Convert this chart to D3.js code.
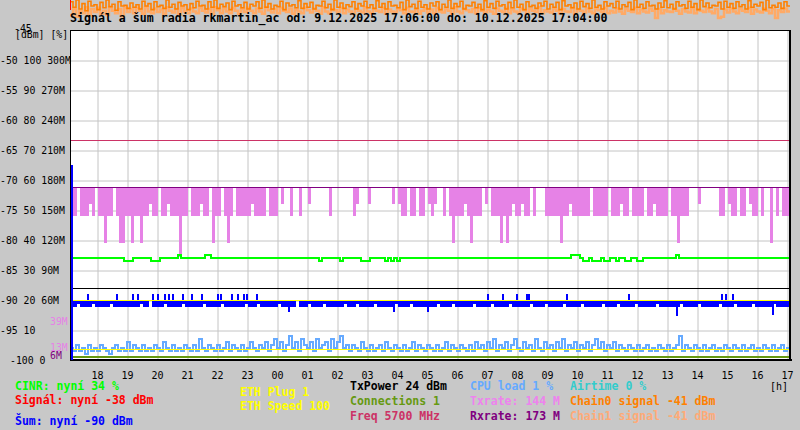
<!DOCTYPE html>
<html>
<head>
<meta charset="utf-8">
<script src="https://cdn.jsdelivr.net/npm/d3@7"></script>
<style>
body { margin: 0; background: #c8c8c8; }
svg { display: block; }
text { font-family: "DejaVu Sans Mono", monospace; }
</style>
</head>
<body>
<svg id="chart"></svg>
<script>
const width = 800;
const height = 430;
const plotLeft = 70, plotRight = 790, plotTop = 30, plotBottom = 360;

const startTime = new Date(2025, 11, 9, 17, 6);
const endTime = new Date(2025, 11, 10, 17, 6);
const stepMin = 6;

const title = 'Signál a šum radia rkmartin_ac od: 9.12.2025 17:06:00 do: 10.12.2025 17:04:00';

// values per 6 minute bucket
let txrate = [
    144,144,173,144,144,144,156,144,173,144, 144,117,144,144,173,144,117,117,144,
    144,117,144,144,117,144, 144,156,144,144,173,144,144,156,144,144,144,103,
    144,144,173,144,144,144,156,144,144,173, 117,144,144,173,144,117,144,173,144,144,
    144,144,144,156,144,144,144,144,173,144,144,144, 173,156,173,173,144,173,173,144,
    173,173,156,173,173,173,173,173,173, 144,173,173, 173,173,173,173,173, 144,156,
    173,173,173, 156, 173,173,173,173,173,173,173, 156,173,156, 144,144,173,144,
    144,173,144,144, 173,156,144,156,173, 173,144,173,
    144,117,144,144,144,156,144,117,144,144,144, 173,156,173, 144,144,144,117,144,117,144,
    156,144,144,156,144,144,173,144, 173,173,173,144,
    144,144,144,144,117,144,144,156,144,144,144, 144,144,144,173,144,144,144,
    144,144,173,144,144,144,156,144,144,173,144,144,144,144,173,144,144,156,144,
    144,144,144,173,144,144,117,144,144,144,173, 173,173,156,173,173,173,173,173,173,144,
    144,173,156,144,144,173,144,144,173,156,144,144, 173,144,173,173,117,173,144,173,144,144,144
];
const rxrate = 173;

let cinr = [
    34,34,34,34,34,34,34,34,34,34,34,34,34,34,34,34,34,34,33,33,
    33,34,34,34,34,34,34,33,33,33,34,34,34,34,34,34,35,34,34,34,
    34,34,34,34,34,35,35,34,34,34,34,34,34,34,34,34,34,34,34,34,
    34,34,34,34,34,34,34,34,34,34,34,34,34,34,34,34,34,34,34,34,
    34,34,34,33,34,34,34,34,34,34,33,34,34,34,34,34,34,33,33,33,
    34,34,34,34,34,33,34,33,34,33,34,34,34,34,34,34,34,34,34,34,
    34,34,34,34,34,34,34,34,34,34,34,34,34,34,34,34,34,34,34,34,
    34,34,34,34,34,34,34,34,34,34,34,34,34,34,34,34,34,34,34,34,
    34,34,34,34,34,34,34,35,35,35,34,33,33,34,33,33,33,34,33,33,
    34,34,33,34,34,33,33,34,34,33,33,34,34,34,34,34,34,34,34,34,
    34,34,35,34,34,34,34,34,34,34,34,34,34,34,34,34,34,34,34,34,
    34,34,34,34,34,34,34,34,34,34,34,34,34,34,34,34,34,34,34,34
];

let cpuLoad = [
    4,3,5,3,4,2,5,3,4,3,5,4,3,2,4,5,3,4,3,6,
    3,5,4,3,5,3,4,3,5,4,3,6,4,3,5,3,4,3,5,4,
    3,5,3,7,4,3,5,4,3,5,3,4,6,3,5,4,3,5,3,4,
    6,4,3,5,4,6,3,5,7,4,6,3,5,8,4,6,3,7,5,4,
    6,3,7,4,5,6,3,7,4,6,8,4,5,3,5,4,3,6,4,3,
    5,3,4,5,3,6,4,3,5,4,3,5,3,4,6,3,5,4,3,5,
    4,3,5,3,4,6,3,5,4,3,5,4,3,5,3,6,4,5,3,6,
    4,7,3,5,4,6,3,5,7,4,3,6,4,5,3,7,4,3,6,4,
    5,3,6,4,7,3,5,4,6,3,5,4,6,3,5,7,4,6,3,5,
    4,6,3,5,4,3,5,4,3,5,3,4,5,3,4,3,5,4,3,5,
    3,4,5,8,3,5,4,3,5,4,3,5,3,4,5,3,4,3,5,4,
    3,5,4,3,5,3,4,5,3,4,3,5,4,3,5,3,4,5,3,4
];

let noiseLow = [
    -91.2,-91.2,-90.6,-91.2,-91.2,-91.2,-91.2,-90.6,-91.2,-91.2,-91.2,-91.2,-91.2,-90.6,-91.2,-91.2,-91.2,-91.2,-91.2,-91.2,
    -91.2,-91.2,-91.2,-90.6,-91.2,-91.2,-90.0,-91.2,-91.2,-91.2,-91.2,-90.6,-91.2,-91.2,-91.2,-91.2,-91.2,-90.6,-91.2,-91.2,
    -91.2,-91.2,-91.2,-91.2,-90.6,-91.2,-91.2,-91.2,-91.2,-91.2,-90.6,-91.2,-91.2,-91.2,-91.2,-91.2,-91.2,-91.2,-90.6,-91.2,
    -91.2,-91.2,-90.6,-91.2,-91.2,-91.2,-91.2,-91.2,-91.2,-90.6,-91.2,-91.2,-91.2,-91.2,-91.2,-90.0,-91.2,-91.2,-91.2,-90.6,
    -91.2,-91.2,-91.2,-91.2,-90.6,-91.2,-91.2,-91.2,-91.2,-91.2,-91.2,-90.6,-91.2,-91.2,-91.2,-90.6,-91.2,-91.2,-91.2,-91.2,
    -91.2,-90.6,-91.2,-91.2,-91.2,-91.2,-91.2,-91.2,-90.6,-91.2,-91.2,-91.2,-91.2,-90.6,-91.2,-91.2,-91.2,-91.2,-91.2,-91.2,
    -91.2,-91.2,-90.6,-91.2,-91.2,-91.2,-91.2,-90.6,-91.2,-91.2,-91.2,-91.2,-91.2,-91.2,-90.6,-91.2,-91.2,-91.2,-91.2,-91.2,
    -90.6,-91.2,-91.2,-91.2,-91.2,-91.2,-90.6,-91.2,-91.2,-91.2,-91.2,-91.2,-91.2,-90.6,-91.2,-91.2,-91.2,-91.2,-90.6,-91.2,
    -91.2,-91.2,-91.2,-91.2,-90.6,-91.2,-91.2,-91.2,-91.2,-91.2,-90.6,-91.2,-91.2,-91.2,-91.2,-91.2,-91.2,-90.6,-91.2,-91.2,
    -91.2,-91.2,-90.6,-91.2,-91.2,-91.2,-91.2,-91.2,-90.6,-91.2,-91.2,-91.2,-91.2,-91.2,-91.2,-90.6,-91.2,-91.2,-91.2,-91.2,
    -91.2,-91.2,-91.2,-90.6,-91.2,-91.2,-91.2,-91.2,-91.2,-90.6,-91.2,-91.2,-91.2,-91.2,-91.2,-91.2,-90.6,-91.2,-91.2,-91.2,
    -91.2,-90.6,-91.2,-91.2,-91.2,-91.2,-91.2,-90.6,-91.2,-91.2,-91.2,-91.2,-91.2,-91.2,-90.6,-91.2,-91.2,-91.2,-91.2,-91.2
];
const noiseFirst = -67.5;

let noiseSpikes = [
    ['17:42', -89], ['18:40', -89], ['19:12', -89], ['19:22', -89], ['19:52', -89],
    ['20:02', -89], ['20:16', -89], ['20:24', -89], ['20:32', -89], ['20:52', -89],
    ['21:10', -89], ['21:30', -89], ['22:02', -89], ['22:08', -89], ['22:30', -89],
    ['22:42', -89], ['22:54', -89], ['23:00', -89], ['23:20', -89], ['00:24', -92],
    ['03:54', -92], ['05:02', -92], ['07:02', -89], ['07:32', -89], ['08:00', -89],
    ['08:20', -89], ['08:24', -89], ['09:40', -89], ['11:44', -89], ['13:20', -92.7],
    ['14:50', -89], ['14:58', -89], ['15:12', -89], ['16:32', -92.5]
];

let chain0 = [
    -40.3,-41.2,-40.0,-41.5,-40.6,-41.8,-40.2,-41.0,-40.8,-41.6,-40.4,-41.3,-40.0,-41.1,-40.7,-41.7,-40.3,-41.0,-40.9,-41.4,
    -40.5,-41.2,-40.8,-41.5,-40.2,-41.0,-40.6,-41.6,-40.3,-41.1,-40.9,-41.4,-40.0,-41.2,-40.7,-41.5,-40.4,-41.0,-40.8,-41.6,
    -40.6,-41.3,-40.2,-41.0,-40.9,-41.5,-40.3,-41.2,-40.0,-41.4,-40.7,-41.1,-40.5,-41.6,-40.2,-41.0,-40.8,-41.3,-40.4,-41.5,
    -40.7,-41.0,-40.3,-41.4,-40.0,-41.2,-40.6,-41.5,-40.9,-41.1,-40.2,-41.6,-40.5,-41.0,-40.8,-41.3,-40.1,-41.4,-40.6,-41.2,
    -40.4,-41.5,-40.9,-41.0,-40.2,-41.3,-40.7,-41.6,-40.0,-41.2,-40.5,-41.4,-40.8,-41.1,-40.3,-41.5,-40.6,-41.0,-40.2,-41.3,
    -40.8,-41.4,-40.1,-41.2,-40.6,-41.5,-40.3,-41.0,-40.9,-41.3,-40.4,-41.6,-40.0,-41.1,-40.7,-41.4,-40.2,-41.2,-40.8,-41.5,
    -40.5,-41.0,-40.3,-41.6,-40.7,-41.2,-40.0,-41.4,-40.6,-41.1,-40.2,-41.5,-40.9,-41.0,-40.4,-41.3,-40.7,-41.6,-40.1,-41.2,
    -40.6,-41.4,-40.2,-41.0,-40.8,-41.5,-40.4,-41.3,-40.0,-41.2,-40.7,-41.6,-40.3,-41.1,-40.9,-41.4,-40.5,-41.0,-40.2,-41.5,
    -40.7,-41.2,-40.4,-41.6,-40.1,-41.0,-40.8,-41.3,-40.5,-41.5,-40.2,-41.1,-40.6,-41.4,-40.0,-41.2,-40.9,-41.5,-40.3,-41.0,
    -40.6,-41.3,-40.2,-41.5,-40.8,-41.1,-40.4,-41.6,-40.0,-41.2,-40.7,-41.4,-40.3,-41.0,-40.9,-41.5,-40.5,-41.2,-40.1,-41.3,
    -40.7,-41.5,-40.3,-41.0,-40.8,-41.4,-40.2,-41.2,-40.6,-41.6,-40.0,-41.1,-40.5,-41.3,-40.9,-41.0,-40.4,-41.5,-40.2,-41.2,
    -40.6,-41.4,-40.3,-41.1,-40.8,-41.5,-40.1,-41.2,-40.7,-41.0,-40.4,-41.6,-40.0,-41.3,-40.9,-41.2,-40.5,-41.4,-40.3,-41.0
];

let chain1 = [
    -42.5,-41.5,-42.8,-41.8,-42.2,-41.2,-42.6,-41.5,-42.0,-41.3,-42.3,-41.8,-42.5,-41.2,-41.8,-42.2,-41.5,-42.7,-41.3,-42.0,
    -41.5,-42.2,-41.3,-41.8,-42.3,-41.2,-41.9,-42.2,-41.4,-42.0,-41.6,-42.3,-41.2,-41.8,-42.1,-41.5,-42.4,-41.3,-41.9,-42.2,
    -41.4,-41.9,-42.2,-41.3,-41.8,-42.1,-41.5,-42.3,-41.2,-41.7,-42.2,-41.4,-41.9,-42.2,-41.3,-41.8,-42.3,-41.5,-42.0,-41.3,
    -41.8,-42.2,-41.4,-41.9,-42.3,-41.2,-41.7,-42.1,-41.5,-42.2,-41.3,-41.8,-42.0,-41.4,-42.3,-41.6,-41.9,-42.2,-41.3,-41.7,
    -42.1,-41.4,-41.8,-42.3,-41.2,-41.9,-42.2,-41.5,-41.7,-42.0,-41.3,-42.2,-41.6,-41.9,-42.3,-41.4,-41.8,-42.1,-41.2,-41.9,
    -42.2,-41.5,-41.8,-42.0,-41.3,-42.3,-41.6,-41.9,-42.1,-41.4,-41.7,-42.2,-41.3,-41.9,-42.0,-41.5,-42.3,-41.8,-41.4,-42.1,
    -41.6,-42.2,-41.3,-41.9,-42.1,-41.5,-41.8,-42.3,-41.2,-41.9,-42.2,-41.4,-41.7,-42.0,-41.5,-42.2,-41.3,-41.8,-42.1,-41.6,
    -41.9,-42.3,-41.4,-41.8,-42.0,-41.3,-42.2,-41.6,-41.9,-42.1,-41.4,-41.7,-42.3,-41.5,-41.8,-42.0,-41.2,-42.2,-41.7,-41.9,
    -42.1,-41.4,-41.8,-42.2,-41.5,-41.9,-42.0,-41.3,-42.3,-41.6,-41.8,-42.1,-41.4,-41.9,-42.2,-41.5,-41.7,-42.0,-41.3,-42.2,
    -41.8,-42.1,-41.4,-41.9,-42.3,-41.5,-41.8,-42.0,-41.3,-42.2,-41.6,-41.9,-42.1,-41.4,-41.8,-43.0,-41.5,-42.2,-41.7,-41.9,
    -42.0,-41.4,-41.8,-42.3,-41.5,-41.9,-42.1,-41.3,-42.2,-41.6,-41.8,-42.0,-41.4,-41.9,-42.2,-41.5,-43.0,-42.8,-41.6,-42.1,
    -41.4,-41.9,-42.2,-41.5,-41.8,-42.0,-41.3,-42.3,-41.6,-41.9,-42.1,-41.4,-41.8,-42.2,-41.5,-43.0,-41.7,-42.0,-41.4,-41.9
];
const signalNow = -38;
const signalFirst = -41.7;

const txPower = 24;      // on % scale
const connections = 1;   // on % scale
const freqLevel = 220;   // on M scale
const ethSpeedLevel = 60;
const ethPlugLevel = 11;

const dbmTicks = [-50, -55, -60, -65, -70, -75, -80, -85, -90, -95];
const tickLabels = ['-50 100 300M', '-55 90 270M', '-60 80 240M', '-65 70 210M', '-70 60 180M',
    '-75 50 150M', '-80 40 120M', '-85 30 90M', '-90 20 60M', '-95 10'];
const rateMarks = [39, 13, 6];

const legendText = [
    ['CINR: nyní 34 %', 'Signál: nyní -38 dBm', 'Šum: nyní -90 dBm'],
    ['ETH Plug 1', 'ETH Speed 100'],
    ['TxPower 24 dBm', 'Connections 1', 'Freq 5700 MHz'],
    ['CPU load 1 %', 'Txrate: 144 M', 'Rxrate: 173 M'],
    ['Airtime 0 %', 'Chain0 signal -41 dBm', 'Chain1 signal -41 dBm']
];

const legendColors = [
    ['#00ff00', '#ff0000', '#0000ff'],
    ['#ffff00', '#ffff00'],
    ['#000000', '#669911', '#cc3366'],
    ['#66aaff', '#ee82ee', '#800080'],
    ['#33cccc', '#ff8000', '#ffaa77']
];

let svg = d3.select('svg').attr('width', width).attr('height', height);

let xScale = d3.scaleTime().domain([startTime, endTime]).range([plotLeft, plotRight]);
let dbmScale = d3.scaleLinear().domain([-100, -45]).range([plotBottom, plotTop]);
let pctScale = d3.scaleLinear().domain([0, 110]).range([plotBottom, plotTop]);
let rateScale = d3.scaleLinear().domain([0, 330]).range([plotBottom, plotTop]);

let bucketTime = (i) => d3.timeMinute.offset(startTime, i * stepMin);

let parseHM = (s) => {
    let [h, m] = s.split(':').map(Number);
    let d = new Date(2025, 11, 9, h, m);
    if (d < startTime) d = d3.timeDay.offset(d, 1);
    return d;
};

let stepPath = (values, yScale) => {
    let pts = values.map((v, i) => [bucketTime(i), v]);
    pts.push([endTime, values[values.length - 1]]);
    return d3.line()
        .curve(d3.curveStepAfter)
        .x(d => xScale(d[0]))
        .y(d => yScale(d[1]))(pts);
};

let hLine = (g, y, color) => {
    g.append('line')
        .attr('x1', plotLeft).attr('x2', plotRight)
        .attr('y1', y + 0.5).attr('y2', y + 0.5)
        .attr('stroke', color);
};

// orange chain signals, drawn above the plot
let drawChains = () => {
    let g = svg.append('g');
    g.append('path').attr('d', stepPath(chain1, dbmScale))
        .attr('fill', 'none').attr('stroke', '#ffaa66').attr('stroke-width', 2.5);
    g.append('path').attr('d', stepPath(chain0, dbmScale))
        .attr('fill', 'none').attr('stroke', '#ff8000').attr('stroke-width', 1.6);
};

let drawTitle = () => {
    svg.append('text')
        .attr('x', 70).attr('y', 22)
        .attr('font-size', 11.6).attr('font-weight', 'bold')
        .attr('fill', '#000')
        .text(title);
};

let drawGrid = () => {
    svg.append('rect')
        .attr('x', plotLeft).attr('y', plotTop)
        .attr('width', plotRight - plotLeft).attr('height', plotBottom - plotTop)
        .attr('fill', '#ffffff');

    let gx = svg.append('g')
        .attr('transform', 'translate(0.5,' + plotBottom + ')')
        .call(d3.axisBottom(xScale).ticks(d3.timeHour.every(1)).tickSize(-(plotBottom - plotTop)).tickFormat(''));
    gx.select('.domain').remove();
    gx.selectAll('text').remove();
    gx.selectAll('line').attr('stroke', '#c4c4c4');

    let gy = svg.append('g')
        .attr('transform', 'translate(' + plotLeft + ',0.5)')
        .call(d3.axisLeft(dbmScale).tickValues(dbmTicks).tickSize(-(plotRight - plotLeft)).tickFormat(''));
    gy.select('.domain').remove();
    gy.selectAll('text').remove();
    gy.selectAll('line').attr('stroke', '#c4c4c4');
};

let drawSeries = () => {
    let g = svg.append('g').attr('shape-rendering', 'crispEdges');

    hLine(g, rateScale(freqLevel), '#cc3366');

    txrate.forEach((v, i) => {
        if (v >= rxrate) return;
        g.append('rect')
            .attr('x', xScale(bucketTime(i)) + 1)
            .attr('width', 2.6)
            .attr('y', rateScale(rxrate))
            .attr('height', rateScale(v) - rateScale(rxrate))
            .attr('fill', '#e682e6');
    });
    hLine(g, rateScale(rxrate), '#800080');

    g.append('path').attr('d', stepPath(cinr, pctScale))
        .attr('fill', 'none').attr('stroke', '#00ff00').attr('stroke-width', 1.3);

    hLine(g, pctScale(txPower), '#000000');

    noiseLow.forEach((v, i) => {
        if (v >= -90) return;
        g.append('rect')
            .attr('x', xScale(bucketTime(i)) + 1)
            .attr('width', 3)
            .attr('y', dbmScale(-90))
            .attr('height', dbmScale(v) - dbmScale(-90))
            .attr('fill', '#0000ff');
    });
    g.selectAll('line.spike')
        .data(noiseSpikes)
        .enter()
        .append('line')
        .attr('class', 'spike')
        .attr('x1', d => xScale(parseHM(d[0])))
        .attr('x2', d => xScale(parseHM(d[0])))
        .attr('y1', dbmScale(-90.5))
        .attr('y2', d => dbmScale(d[1]))
        .attr('stroke', '#0000ff')
        .attr('stroke-width', 1.5);

    hLine(g, rateScale(ethSpeedLevel), '#ffff00');

    g.append('path').attr('d', stepPath(cpuLoad, pctScale))
        .attr('fill', 'none').attr('stroke', '#66aaff').attr('stroke-width', 1.6);

    hLine(g, rateScale(ethPlugLevel), '#ffff00');
    hLine(g, pctScale(connections) - 1, '#669911');
    hLine(g, pctScale(connections), '#669911');
};

let drawFrame = () => {
    let g = svg.append('g').attr('shape-rendering', 'crispEdges');
    g.append('line').attr('x1', plotLeft).attr('x2', plotRight + 1).attr('y1', plotTop + 0.5).attr('y2', plotTop + 0.5).attr('stroke', '#000');
    g.append('line').attr('x1', plotLeft + 0.5).attr('x2', plotLeft + 0.5).attr('y1', plotTop).attr('y2', plotBottom + 1).attr('stroke', '#000');
    g.append('line').attr('x1', plotLeft).attr('x2', plotRight + 2).attr('y1', plotBottom).attr('y2', plotBottom).attr('stroke', '#000').attr('stroke-width', 2);
    g.append('line').attr('x1', plotRight).attr('x2', plotRight).attr('y1', plotTop).attr('y2', plotBottom + 1).attr('stroke', '#000').attr('stroke-width', 2);

    // first samples
    g.append('line')
        .attr('x1', xScale(startTime) + 2).attr('x2', xScale(startTime) + 2)
        .attr('y1', dbmScale(-100)).attr('y2', dbmScale(noiseFirst))
        .attr('stroke', '#0000ff').attr('stroke-width', 2);
    g.append('line')
        .attr('x1', xScale(startTime) + 0.5).attr('x2', xScale(startTime) + 0.5)
        .attr('y1', dbmScale(signalFirst)).attr('y2', dbmScale(signalNow))
        .attr('stroke', '#ff0000');
};

let drawAxes = () => {
    let hours = svg.append('g')
        .attr('transform', 'translate(0,' + plotBottom + ')')
        .call(d3.axisBottom(xScale).ticks(d3.timeHour.every(1)).tickSize(0).tickPadding(12).tickFormat(d3.timeFormat('%H')));
    hours.select('.domain').remove();
    hours.selectAll('text')
        .attr('font-family', '"DejaVu Sans Mono", monospace')
        .attr('font-size', 10)
        .attr('fill', '#000');

    svg.append('text').attr('x', 770).attr('y', 390).attr('font-size', 10).text('[h]');

    svg.selectAll('text.ylab')
        .data(dbmTicks)
        .enter()
        .append('text')
        .attr('class', 'ylab')
        .attr('x', 0)
        .attr('y', d => dbmScale(d) + 4)
        .attr('font-size', 9.8)
        .attr('fill', '#000')
        .text((d, i) => tickLabels[i]);

    svg.append('text').attr('x', 14).attr('y', 32).attr('font-size', 9.8).text('-45');
    svg.append('text').attr('x', 15).attr('y', 38).attr('font-size', 9.8).text('[dBm] [%]');
    svg.append('text').attr('x', 10).attr('y', dbmScale(-100) + 4).attr('font-size', 9.8).text('-100 0');

    let markColors = ['#e682e6', '#e682e6', '#800080'];
    svg.selectAll('text.rmark')
        .data(rateMarks)
        .enter()
        .append('text')
        .attr('class', 'rmark')
        .attr('x', 50)
        .attr('y', (d, i) => rateScale(d) + (i === 2 ? 5 : 4))
        .attr('font-size', 9.8)
        .attr('fill', (d, i) => markColors[i])
        .text(d => d + 'M');
};

let drawLegend = () => {
    let colX = [15, 240, 350, 470, 570];
    let rowY = [[390, 404, 425], [396, 410], [390, 405, 420], [390, 405, 420], [390, 405, 420]];
    legendText.forEach((col, c) => {
        col.forEach((txt, r) => {
            svg.append('text')
                .attr('x', colX[c])
                .attr('y', rowY[c][r])
                .attr('font-size', 11.5)
                .attr('font-weight', 'bold')
                .attr('fill', legendColors[c][r])
                .text(txt);
        });
    });
};

drawChains();
drawTitle();
drawGrid();
drawSeries();
drawFrame();
drawAxes();
drawLegend();
</script>
</body>
</html>
